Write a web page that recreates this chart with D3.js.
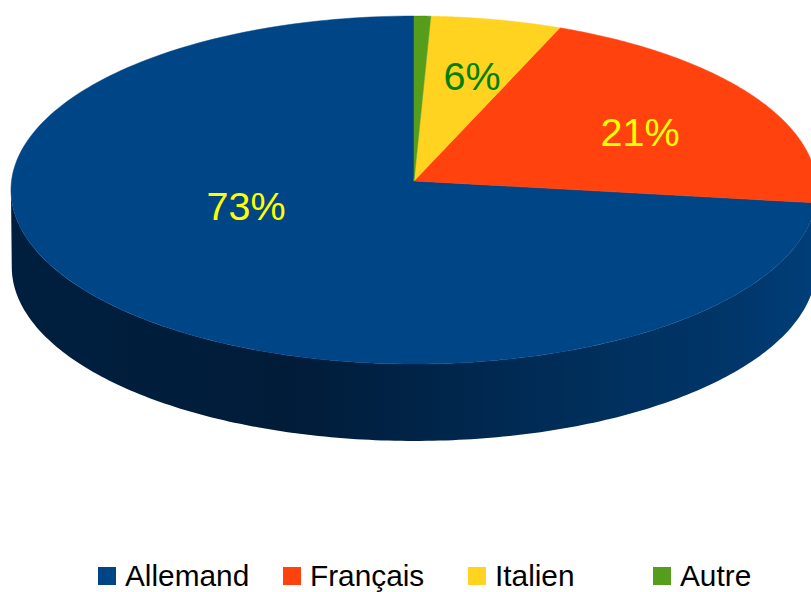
<!DOCTYPE html>
<html>
<head>
<meta charset="utf-8">
<script src="https://cdn.jsdelivr.net/npm/d3@7"></script>
<style>
body { margin: 0; background: #fff; }
svg { display: block; }
text { font-family: "Liberation Sans", sans-serif; }
</style>
</head>
<body>
<svg id="chart" width="811" height="592"></svg>
<script>
var categories = ["Allemand", "Français", "Italien", "Autre"]
var values = [73, 20.8, 5.5, 0.7]
var percentLabels = ["73%", "21%", "6%", null]
var colors = ["#004586", "#ff420e", "#ffd320", "#579d1c"]
var labelColors = ["#ffff00", "#ffff00", "#008000", null]

var width = 811, height = 592
var svg = d3.select("#chart")

// the tilted disc is a circle seen in perspective
var cx = 414, cy = 181
var k = -0.0517
var scaleX = d3.scaleLinear().domain([-1, 1]).range([cx - 402.5, cx + 402.5])
var scaleY = d3.scaleLinear().domain([-1, 1]).range([cy - 173.5, cy + 173.5])
var depth = 77, bottomShrink = 0.998

var project = (a, r, dy, shrink) => {
    var x = r * Math.sin(a), y = -r * Math.cos(a)
    var w = 1 + k * y
    return [
        cx + (scaleX(x / w) - cx) * (shrink || 1),
        scaleY(y / w) + (dy || 0)
    ]
}

var line = d3.line()

var arcPoints = (a0, a1, dy, shrink) => {
    return d3.range(0, 201).map(i => project(a0 + (a1 - a0) * i / 200, 1, dy, shrink))
}

// side wall
var defs = svg.append("defs")
var grad = defs.append("linearGradient")
    .attr("id", "wall")
    .attr("gradientUnits", "userSpaceOnUse")
    .attr("x1", 11).attr("x2", 817).attr("y1", 0).attr("y2", 0)
var stops = [[0, "#001f3f"], [0.35, "#001c39"], [0.55, "#00264c"], [0.7, "#002e5a"], [0.9, "#00366a"], [1, "#003f7a"]]
grad.selectAll("stop").data(stops).enter().append("stop")
    .attr("offset", d => d[0])
    .attr("stop-color", d => d[1])

// silhouette extremes of the disc, a little in front of the side points
var tilt = Math.asin(-k)
var leftA = Math.PI * 1.5 - tilt
var rightA = Math.PI / 2 + tilt
var wallPoints = arcPoints(rightA, leftA, 0)
    .concat(arcPoints(leftA, rightA, depth, bottomShrink))
svg.append("path")
    .attr("d", line(wallPoints) + "Z")
    .attr("fill", "url(#wall)")

// slices run counter-clockwise from the top
var pie = d3.pie().sort(null).startAngle(0).endAngle(-2 * Math.PI)
var slices = pie(values)

svg.append("g").selectAll("path")
    .data(slices)
    .enter().append("path")
    .attr("d", d => line([[cx, cy]].concat(arcPoints(d.startAngle, d.endAngle))) + "Z")
    .attr("fill", (d, i) => colors[i])
    .attr("stroke", (d, i) => colors[i])
    .attr("stroke-width", 0.5)

// data labels sit where the original renderer put them
var labelAnchors = [[246, 220], [640, 146], [472, 90]]
svg.append("g").selectAll("text")
    .data(labelAnchors)
    .enter().append("text")
    .attr("x", d => d[0])
    .attr("y", d => d[1])
    .attr("text-anchor", "middle")
    .attr("font-size", 39.5)
    .attr("fill", (d, i) => labelColors[i])
    .text((d, i) => percentLabels[i])

// legend
var legendX = d3.scalePoint().domain(categories).range([98, 653])
var legend = svg.append("g").selectAll("g")
    .data(categories)
    .enter().append("g")
    .attr("transform", d => "translate(" + legendX(d) + ",567)")
legend.append("rect")
    .attr("width", 18)
    .attr("height", 18)
    .attr("fill", (d, i) => colors[i])
legend.append("text")
    .attr("x", 27)
    .attr("y", 19)
    .attr("font-size", 29.8)
    .attr("fill", "#000")
    .text(d => d)
</script>
</body>
</html>
